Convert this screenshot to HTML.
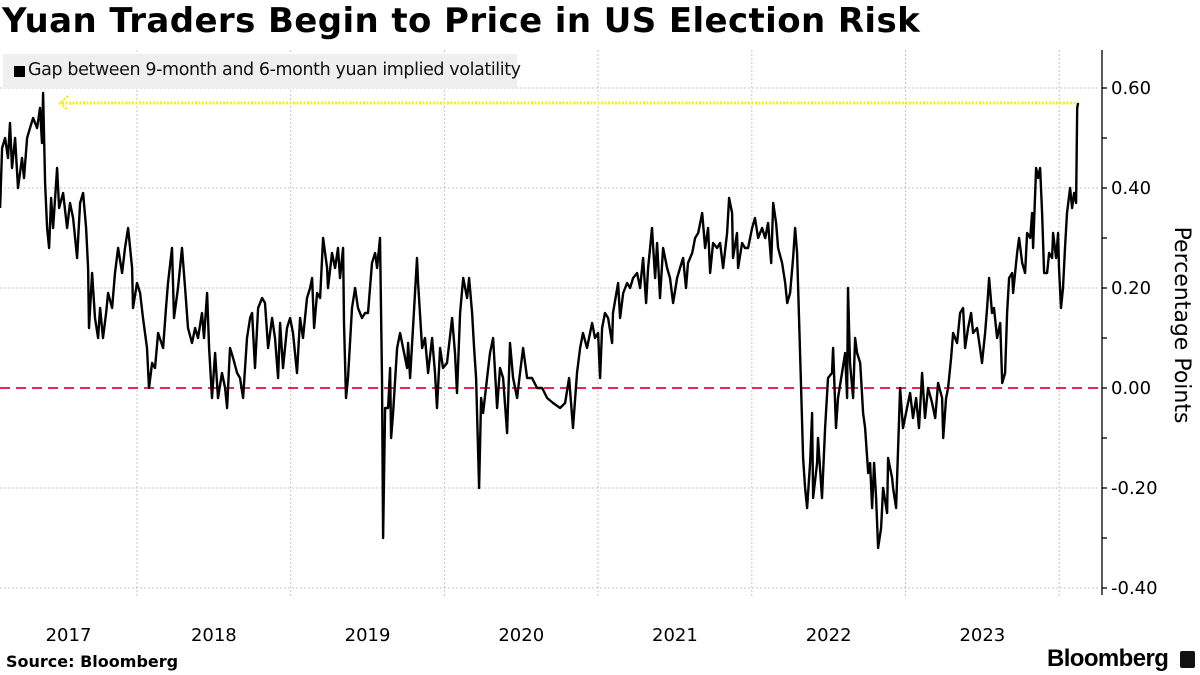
<!DOCTYPE html>
<html><head><meta charset="utf-8">
<style>
html,body{margin:0;padding:0;background:#fff;}
body{width:1200px;height:675px;overflow:hidden;position:relative;font-family:"Liberation Sans",sans-serif;}
#title{position:absolute;left:2px;top:1px;font-size:34px;font-weight:bold;color:#000;letter-spacing:0.4px;white-space:nowrap;font-family:"DejaVu Sans","Liberation Sans",sans-serif;}
#legend{position:absolute;left:3px;top:54px;width:514px;height:34px;background:#efefef;}
#legend .sw{position:absolute;left:11px;top:12px;width:11px;height:11px;background:#000;}
#legend .tx{position:absolute;left:25px;top:6px;font-size:17.5px;color:#111;white-space:nowrap;font-family:"DejaVu Sans","Liberation Sans",sans-serif;letter-spacing:-0.4px;}
#source{position:absolute;left:6px;top:652px;font-size:16px;font-weight:bold;white-space:nowrap;font-family:"DejaVu Sans","Liberation Sans",sans-serif;}
#brand{position:absolute;left:1047px;top:645px;font-size:24px;font-weight:bold;white-space:nowrap;letter-spacing:-0.6px;}
#brandicon{position:absolute;left:1180px;top:651px;width:15px;height:17px;background:#111;border-radius:2px;}
svg{position:absolute;left:0;top:0;}
</style></head>
<body>
<div id="title">Yuan Traders Begin to Price in US Election Risk</div>
<svg id="chart" width="1200" height="675"></svg>
<div id="legend"><div class="sw"></div><div class="tx">Gap between 9-month and 6-month yuan implied volatility</div></div>
<div id="source">Source: Bloomberg</div>
<div id="brand">Bloomberg</div>
<div id="brandicon"></div>
<script>
const dates=[2017.109,2017.122,2017.142,2017.161,2017.174,2017.187,2017.207,2017.226,2017.252,2017.265,2017.285,2017.304,2017.324,2017.350,2017.369,2017.382,2017.389,2017.402,2017.415,2017.428,2017.441,2017.454,2017.480,2017.493,2017.519,2017.545,2017.564,2017.584,2017.610,2017.630,2017.649,2017.669,2017.682,2017.688,2017.708,2017.727,2017.747,2017.760,2017.779,2017.799,2017.812,2017.838,2017.857,2017.877,2017.903,2017.922,2017.942,2017.968,2017.974,2018.000,2018.020,2018.039,2018.065,2018.078,2018.098,2018.117,2018.137,2018.170,2018.189,2018.202,2018.228,2018.241,2018.267,2018.293,2018.313,2018.332,2018.358,2018.378,2018.397,2018.423,2018.436,2018.456,2018.469,2018.488,2018.508,2018.527,2018.553,2018.573,2018.586,2018.605,2018.625,2018.651,2018.670,2018.690,2018.716,2018.736,2018.749,2018.768,2018.788,2018.814,2018.833,2018.853,2018.879,2018.898,2018.918,
2018.931,2018.950,2018.976,2018.996,2019.015,2019.041,2019.061,2019.080,2019.106,2019.126,2019.139,2019.152,2019.172,2019.191,2019.211,2019.237,2019.243,2019.269,2019.289,2019.308,2019.321,2019.341,2019.347,2019.360,2019.373,2019.399,2019.419,2019.438,2019.464,2019.484,2019.503,2019.529,2019.549,2019.562,2019.581,2019.594,2019.601,2019.614,2019.634,2019.647,2019.653,2019.666,2019.692,2019.712,2019.731,2019.757,2019.764,2019.777,2019.796,2019.822,2019.829,2019.855,2019.874,2019.894,2019.920,2019.939,2019.952,2019.972,2019.991,2020.017,2020.050,2020.069,2020.082,2020.102,2020.122,2020.148,2020.161,2020.180,2020.193,2020.206,2020.226,2020.239,2020.252,2020.278,2020.297,2020.317,2020.343,2020.362,2020.382,2020.408,2020.427,2020.447,2020.473,2020.492,2020.512,2020.538,2020.570,2020.603,2020.636,2020.668,2020.707,2020.753,
2020.785,2020.811,2020.837,2020.863,2020.883,2020.902,2020.928,2020.961,2020.980,2021.000,2021.013,2021.026,2021.045,2021.065,2021.091,2021.097,2021.130,2021.143,2021.163,2021.189,2021.208,2021.228,2021.254,2021.273,2021.293,2021.312,2021.325,2021.338,2021.351,2021.371,2021.384,2021.403,2021.423,2021.449,2021.468,2021.488,2021.514,2021.533,2021.553,2021.572,2021.585,2021.612,2021.631,2021.651,2021.677,2021.696,2021.716,2021.729,2021.748,2021.774,2021.794,2021.813,2021.839,2021.852,2021.872,2021.878,2021.904,2021.911,2021.937,2021.956,2021.976,2022.002,2022.021,2022.041,2022.067,2022.087,2022.106,2022.126,2022.139,2022.158,2022.171,2022.197,2022.217,2022.230,
2022.249,2022.269,2022.282,2022.295,2022.321,2022.334,2022.347,2022.360,2022.379,2022.392,2022.399,2022.425,2022.431,2022.457,2022.477,2022.496,2022.522,2022.529,2022.548,2022.561,2022.587,2022.607,2022.620,2022.626,2022.639,2022.659,2022.672,2022.685,2022.705,2022.724,2022.737,2022.757,2022.770,2022.783,2022.796,2022.809,2022.822,2022.841,2022.854,2022.880,2022.887,2022.913,2022.919,2022.939,2022.952,2022.965,2022.984,2023.010,2023.030,2023.049,2023.069,2023.088,2023.108,2023.127,2023.147,2023.173,2023.193,2023.212,2023.238,2023.245,2023.264,2023.277,2023.297,2023.310,2023.336,2023.355,2023.375,2023.388,2023.407,2023.427,2023.440,2023.466,2023.485,2023.498,2023.518,2023.531,2023.544,2023.563,2023.576,2023.596,2023.616,2023.629,2023.648,2023.661,2023.674,2023.694,2023.700,2023.726,2023.739,2023.759,2023.778,2023.791,2023.811,2023.824,2023.830,2023.850,2023.863,2023.876,2023.889,2023.902,2023.921,2023.934,2023.954,2023.960,2023.980,2023.993,2023.999,2024.012,2024.025,2024.038,2024.051,2024.071,2024.084,2024.097,2024.110,2024.117,2024.123];
const values=[.36,.48,.50,.46,.53,.44,.50,.40,.46,.42,.50,.52,.54,.52,.56,.49,.59,.41,.32,.28,.38,.32,.44,.36,.39,.32,.37,.34,.26,.37,.39,.32,.24,.12,.23,.14,.10,.16,.10,.15,.19,.16,.23,.28,.23,.28,.32,.24,.16,.21,.19,.14,.08,.00,.05,.04,.11,.08,.16,.21,.28,.14,.20,.28,.20,.12,.09,.12,.10,.15,.10,.19,.08,-.02,.07,-.02,.03,.00,-.04,.08,.06,.03,.02,-.02,.10,.14,.15,.04,.16,.18,.17,.08,.14,.10,.02,
.13,.04,.12,.14,.11,.03,.14,.10,.18,.20,.22,.12,.19,.18,.30,.24,.20,.27,.24,.28,.22,.28,.13,-.02,.02,.16,.20,.16,.14,.15,.15,.25,.27,.24,.30,.02,-.30,-.04,-.04,.04,-.10,-.05,.08,.11,.08,.04,.09,.02,.12,.26,.21,.08,.10,.03,.10,.03,-.04,.08,.04,.05,.14,.07,-.01,.15,.22,.18,.22,.15,.08,.02,-.20,-.02,-.05,.02,.07,.10,-.04,.04,.02,-.09,.09,.02,-.02,.03,.08,.02,.02,.00,.00,-.02,-.03,-.04,
-.03,.02,-.08,.03,.08,.11,.08,.13,.10,.11,.02,.12,.15,.14,.09,.15,.21,.14,.19,.21,.20,.22,.23,.20,.26,.17,.24,.28,.32,.22,.29,.18,.28,.24,.22,.17,.22,.24,.26,.20,.25,.27,.30,.31,.35,.28,.32,.23,.29,.28,.29,.24,.31,.38,.35,.26,.31,.24,.29,.28,.28,.32,.34,.30,.32,.30,.33,.25,.37,.33,.28,.25,.21,.17,
.19,.26,.32,.27,.00,-.14,-.20,-.24,-.15,-.05,-.22,-.15,-.10,-.22,-.08,.02,.03,.08,-.08,-.02,.03,.07,-.02,.20,.05,-.02,.10,.07,.05,-.05,-.08,-.17,-.15,-.24,-.15,-.22,-.32,-.28,-.20,-.25,-.14,-.18,-.20,-.24,-.12,.00,-.08,-.04,-.01,-.06,-.02,-.08,.03,-.06,.00,-.03,-.06,.01,-.02,-.10,-.02,.00,.06,.11,.09,.15,.16,.08,.12,.15,.11,.12,.08,.05,.11,.16,.22,.15,.16,.10,.13,.01,.03,.15,.22,.23,.19,.27,.30,.25,.23,.31,.30,.35,.28,.44,.42,.44,.35,.23,.23,.27,.26,.31,.26,.31,.24,.16,.20,.28,.35,.40,.36,.39,.37,.56,.57];
const yTicks=[0.6,0.4,0.2,0,-0.2,-0.4];
const yTickLabels=["0.60","0.40","0.20","0.00","-0.20","-0.40"];
const yearLabels=["2017","2018","2019","2020","2021","2022","2023"];
const gridYears=[2018,2019,2020,2021,2022,2023,2024];
const refZero=0;
const highLevel=0.57;

const NS="http://www.w3.org/2000/svg";
const svg=document.getElementById('chart');
const X0=-16.7, PXY=153.7, Y0=388, PXV=500;
function xs(t){return X0+(t-2017)*PXY;}
function ys(v){return Y0-v*PXV;}
function mk(tag,attrs){const e=document.createElementNS(NS,tag);for(const k in attrs)e.setAttribute(k,attrs[k]);svg.appendChild(e);return e;}

yTicks.forEach(v=>{ if(v===0)return;
  const g=mk('line',{x1:0,x2:1100,y1:ys(v),y2:ys(v),stroke:'#c4c4c4','stroke-width':1,'stroke-dasharray':'2,2'});
  
  
});
gridYears.forEach(t=>{
  const g=mk('line',{x1:xs(t),x2:xs(t),y1:50,y2:597,stroke:'#c4c4c4','stroke-width':1,'stroke-dasharray':'2,2'});
  
  
});
const z=mk('line',{x1:0,x2:1100,y1:ys(refZero),y2:ys(refZero),stroke:'#e8294f','stroke-width':2,'stroke-dasharray':'10,6'});


const hl=mk('line',{x1:62,x2:xs(dates[dates.length-1]),y1:ys(highLevel),y2:ys(highLevel),stroke:'#f5ee1c','stroke-width':3,'stroke-dasharray':'2,1.5'});


const ah=mk('polyline',{points:`68,${ys(highLevel)-7} 60,${ys(highLevel)} 68,${ys(highLevel)+7}`,fill:'none',stroke:'#f5ee1c','stroke-width':2.5,'stroke-dasharray':'2,1.5'});


let d='';
for(let i=0;i<dates.length;i++){d+=(i?'L':'M')+xs(dates[i]).toFixed(1)+','+ys(values[i]).toFixed(1);}
const p=mk('path',{d:d,fill:'none',stroke:'#000','stroke-width':2.4,'stroke-linejoin':'round'});


const ax=mk('line',{x1:1102,x2:1102,y1:50,y2:595,stroke:'#000','stroke-width':1.3});


for(let v=-0.4;v<=0.61;v+=0.1){
  const t=mk('line',{x1:1102,x2:1107,y1:ys(v),y2:ys(v),stroke:'#000','stroke-width':1.3});
  
  
}
yTicks.forEach((v,i)=>{
  const t=mk('text',{x:1111,y:ys(v)+6,'font-size':18,fill:'#000','font-family':'"DejaVu Sans","Liberation Sans",sans-serif'});
  t.textContent=yTickLabels[i];
  
  
});
yearLabels.forEach((lab,i)=>{
  const yr=+lab;
  const cx=i===0?(Math.max(0,xs(yr))+xs(yr+1))/2:xs(yr+0.5);
  const t=mk('text',{x:cx,y:641,'font-size':18,'text-anchor':'middle',fill:'#000','font-family':'"DejaVu Sans","Liberation Sans",sans-serif'});
  t.textContent=lab;
  
  
});
const at=mk('text',{x:0,y:0,'font-size':22,'text-anchor':'middle',fill:'#000',transform:'translate(1175,325) rotate(90)','font-family':'"DejaVu Sans","Liberation Sans",sans-serif'});
at.textContent='Percentage Points';


</script>
</body></html>
